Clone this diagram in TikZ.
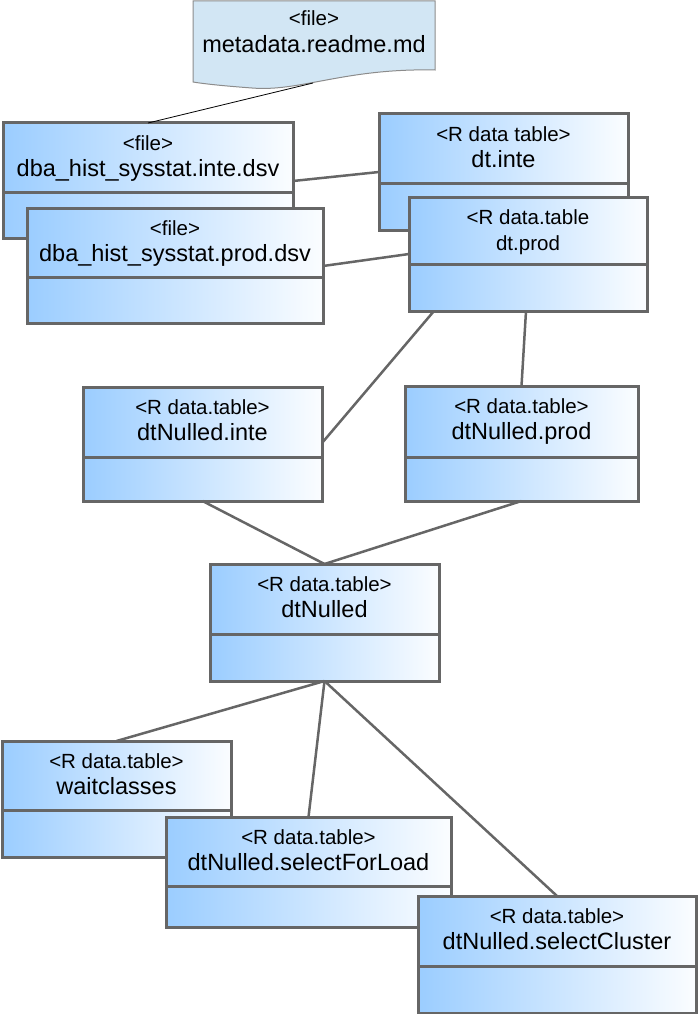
\documentclass[tikz,border=0pt]{standalone}
\usepackage{fontspec}
\setmainfont{Liberation Sans}
\usetikzlibrary{calc}
\definecolor{ublue}{RGB}{155,205,255}
\definecolor{bordergray}{RGB}{102,102,102}
\definecolor{notefill}{RGB}{210,230,244}
\definecolor{noteline}{RGB}{140,140,140}
\pgfdeclarehorizontalshading{ugrad}{100bp}{color(0bp)=(ublue); color(25bp)=(ublue); color(75bp)=(white!96!ublue); color(100bp)=(white!96!ublue)}
\tikzset{
  compart/.style={draw=bordergray, line width=3pt, shading=ugrad, inner sep=0pt, outer sep=0pt},
  stereo/.style={inner sep=0pt, font=\fontsize{20.5}{23}\selectfont},
  mainlbl/.style={inner sep=0pt, font=\fontsize{23.5}{27}\selectfont},
  conn/.style={draw=bordergray, line width=2.5pt},
  thinconn/.style={draw=black, line width=0.8pt}
}
\newcommand\umlbox[8]{%
  \node[compart, anchor=north west, minimum width={(#4-#2)*1pt}, minimum height={(#5-#3)*1pt}] (#1) at (#2,#3) {};
  \node[compart, anchor=north west, minimum width={(#4-#2)*1pt}, minimum height={(#6-#5)*1pt}] (#1b) at (#2,#5) {};
  \node[stereo, anchor=base] (#1s) at ({(#2+#4)/2},#3+27) {#7};
  \node[mainlbl, anchor=base] (#1n) at ({(#2+#4)/2},#3+53) {#8};
}
\begin{document}
\begin{tikzpicture}[x=1pt,y=-1pt]
\useasboundingbox (0,0) rectangle (697,1014);
% note
\node[inner sep=0pt, outer sep=0pt, minimum width=242pt, minimum height=87pt, anchor=north west] (note) at (193,1) {};
\draw[fill=notefill, draw=noteline, line width=1pt] (193,1) -- (435,1) -- (435,70)
  .. controls (345,68) and (300,92) .. (252,88)
  .. controls (225,86) and (205,84) .. (193,82) -- cycle;
\node[stereo, anchor=base] (notes) at (314,26) {<file>};
\node[mainlbl, anchor=base] (noten) at (314,53) {metadata.readme.md};
% boxes
\umlbox{b1}{3}{123}{293}{192}{238}{<file>}{dba\_hist\_sysstat.inte.dsv}
\umlbox{b3}{379}{114}{628}{183}{230}{<R data table>}{dt.inte}
\umlbox{b2}{27}{208}{323}{277}{323}{<file>}{dba\_hist\_sysstat.prod.dsv}
\umlbox{b4}{409}{197}{647}{264}{311}{<R data.table}{\fontsize{20.5}{23}\selectfont dt.prod}
\umlbox{b5}{83}{387}{322}{457}{501}{<R data.table>}{dtNulled.inte}
\umlbox{b6}{405}{386}{638}{457}{501}{<R data.table>}{dtNulled.prod}
\umlbox{b7}{210}{564}{439}{634}{681}{<R data.table>}{dtNulled}
\umlbox{b8}{2}{741}{231}{810}{857}{<R data.table>}{waitclasses}
\umlbox{b9}{166}{817}{451}{886}{927}{<R data.table>}{dtNulled.selectForLoad}
\umlbox{b10}{418}{896}{696}{966}{1013}{<R data.table>}{dtNulled.selectCluster}
% connectors
\draw[thinconn] (b1.north) -- ([xshift=120pt,yshift=5pt]note.south west);
\draw[conn] ([yshift=11pt]b1.south east) -- ([yshift=11pt]b3.south west);
\draw[conn] ([yshift=11pt]b2.south east) -- ([yshift=10pt]b4.south west);
\draw[conn] ([xshift=25pt]b4b.south west) -- ([yshift=14pt]b5.south east);
\draw[conn] ([xshift=117pt]b4b.south west) -- (b6.north);
\draw[conn] (b5b.south) -- (b7.north);
\draw[conn] (b6b.south) -- (b7.north);
\draw[conn] (b7b.south) -- (b8.north);
\draw[conn] (b7b.south) -- (b9.north);
\draw[conn] (b7b.south) -- (b10.north);
\end{tikzpicture}
\end{document}
